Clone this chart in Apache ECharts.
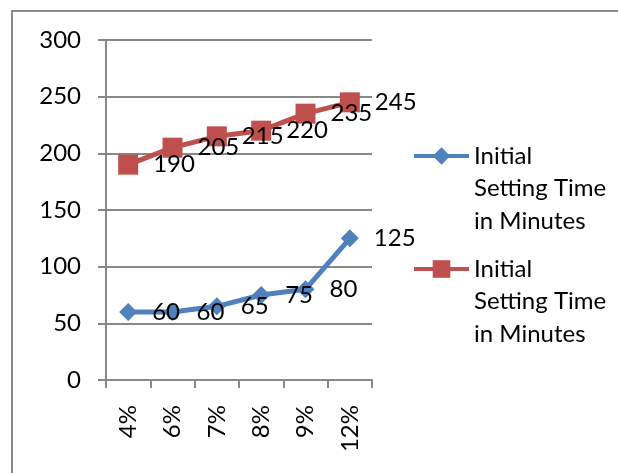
<!DOCTYPE html>
<html>
<head>
<meta charset="utf-8">
<script src="https://cdn.jsdelivr.net/npm/echarts@6/dist/echarts.min.js"></script>
<style>
  html, body { margin: 0; padding: 0; background: #fff; }
  #chart { width: 618px; height: 473px; }
</style>
</head>
<body>
<div id="chart"></div>
<script>
// Cement content categories on the x axis
const categories = ['4%', '6%', '7%', '8%', '9%', '12%'];
// Initial setting time readings (minutes), two series
const seriesA = [60, 60, 65, 75, 80, 125];
const seriesB = [190, 205, 215, 220, 235, 245];
// Series names (kept distinct so each legend entry maps to its own series)
const seriesNames = ['Initial Setting Time in Minutes', 'Initial Setting Time in Minutes\u200b'];
// Two blank lead lines push the wrapped label down so its first line sits beside the icon
const legendLabel = '\n\nInitial\nSetting Time\nin Minutes';
// Y axis scale
const yMin = 0, yMax = 300, yStep = 50;

const FONT = 'Lato';
const GREY = '#888888';

const chart = echarts.init(document.getElementById('chart'), null, { renderer: 'canvas' });

function legendFor(name, top) {
  return {
    data: [name],
    orient: 'vertical',
    left: 412,
    top: top,
    padding: 0,
    itemWidth: 55,
    itemHeight: 22,
    selectedMode: false,
    lineStyle: { width: 4 },
    formatter: () => legendLabel,
    textStyle: {
      fontFamily: FONT,
      fontSize: 24,
      color: '#000',
      lineHeight: 32.5
    }
  };
}

const labelStyle = {
  show: true,
  position: 'right',
  distance: 15,
  fontFamily: FONT,
  fontSize: 24,
  color: '#000'
};

chart.setOption({
  animation: false,
  backgroundColor: '#fff',
  graphic: [{
    type: 'rect',
    shape: { x: 12, y: 11, width: 700, height: 600 },
    style: { fill: 'none', stroke: '#8c8c8c', lineWidth: 2 },
    silent: true,
    z: -1
  }],
  legend: [legendFor(seriesNames[0], 74.75), legendFor(seriesNames[1], 187.75)],
  grid: { left: 106, right: 246, top: 40, bottom: 93, containLabel: false },
  xAxis: {
    type: 'category',
    data: categories,
    boundaryGap: true,
    axisLine: { show: true, lineStyle: { color: GREY, width: 2 } },
    axisTick: { show: true, length: 8, alignWithLabel: false, lineStyle: { color: GREY, width: 2 } },
    axisLabel: { rotate: 90, margin: 25, fontFamily: FONT, fontSize: 24, color: '#000' },
    splitLine: { show: false }
  },
  yAxis: {
    type: 'value',
    min: yMin,
    max: yMax,
    interval: yStep,
    axisLine: { show: true, lineStyle: { color: GREY, width: 2 } },
    axisTick: { show: true, length: 8, lineStyle: { color: GREY, width: 2 } },
    axisLabel: { margin: 25, fontFamily: FONT, fontSize: 24, color: '#000' },
    splitLine: { show: true, lineStyle: { color: GREY, width: 2 } }
  },
  series: [
    {
      name: seriesNames[0],
      type: 'line',
      data: seriesA,
      symbol: 'diamond',
      symbolSize: 18,
      lineStyle: { color: '#4F81BD', width: 5 },
      itemStyle: { color: '#4F81BD' },
      label: labelStyle,
      z: 3
    },
    {
      name: seriesNames[1],
      type: 'line',
      data: seriesB,
      symbol: 'rect',
      symbolSize: 20,
      lineStyle: { color: '#C0504D', width: 5 },
      itemStyle: { color: '#C0504D' },
      label: labelStyle,
      z: 3
    }
  ]
});
</script>
</body>
</html>
